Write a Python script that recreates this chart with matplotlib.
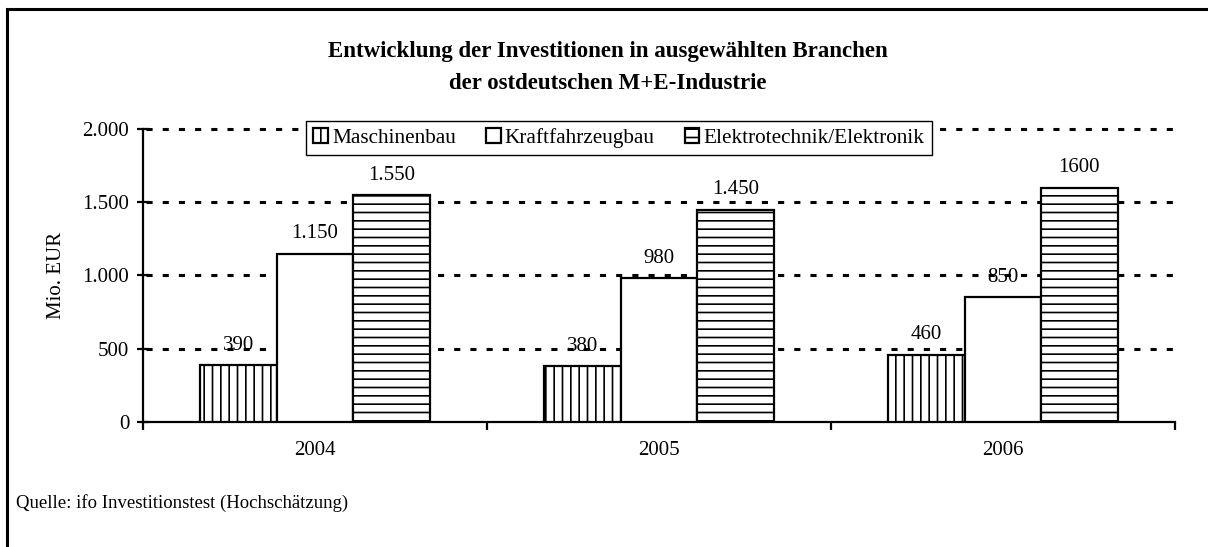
import numpy as np
import matplotlib
matplotlib.use("Agg")
import matplotlib.pyplot as plt
from matplotlib.patches import Rectangle
from matplotlib.ticker import FuncFormatter

years = ["2004", "2005", "2006"]
series = ["Maschinenbau", "Kraftfahrzeugbau", "Elektrotechnik/Elektronik"]
maschinenbau = [390, 380, 460]
kraftfahrzeugbau = [1150, 980, 850]
elektrotechnik = [1550, 1450, 1600]
labels = [["390", "380", "460"], ["1.150", "980", "850"], ["1.550", "1.450", "1600"]]
hatches = ["||", "", "--"]

plt.rcParams["font.family"] = ["Liberation Serif", "DejaVu Serif"]
plt.rcParams["hatch.linewidth"] = 1.2

fig = plt.figure(figsize=(12.08, 5.47), dpi=100)
ax = fig.add_axes([0.1184, 0.2285, 0.8543, 0.5357])

pos = np.arange(len(years))
w = 0.222
values = [maschinenbau, kraftfahrzeugbau, elektrotechnik]
for i, vals in enumerate(values):
    bars = ax.bar(pos + (i - 1) * w, vals, w, color="white", edgecolor="black",
                  linewidth=1.6, hatch=hatches[i], label=series[i], zorder=3)
    for b, t in zip(bars, labels[i]):
        ax.annotate(t, (b.get_x() + b.get_width() / 2, b.get_height()),
                    xytext=(0, 11), textcoords="offset points",
                    ha="center", va="baseline", fontsize=15, zorder=4)

ax.set_xlim(-0.5, 2.5)
ax.set_ylim(0, 2000)
ax.set_yticks([0, 500, 1000, 1500, 2000])
ax.yaxis.set_major_formatter(FuncFormatter(lambda v, p: f"{int(v):,}".replace(",", ".")))
# dotted grid lines, drawn behind the white bars
for y in [500, 1000, 1500, 2000]:
    ax.plot([-0.49, 2.5], [y, y], color="black", lw=2.2,
            linestyle=(0, (2, 3.3)), zorder=1, clip_on=False)

ax.set_xticks([-0.5, 0.5, 1.5, 2.5])
ax.set_xticklabels([])
ax.set_xticks(pos, minor=True)
ax.set_xticklabels(years, minor=True, fontsize=15)
ax.tick_params(axis="x", which="major", direction="out", length=6, width=1.6)
ax.tick_params(axis="x", which="minor", length=0, pad=14)
ax.tick_params(axis="y", direction="inout", length=8, width=1.6, labelsize=15, pad=6)

for s in ["top", "right"]:
    ax.spines[s].set_visible(False)
for s in ["left", "bottom"]:
    ax.spines[s].set_linewidth(1.6)

ax.set_ylabel("Mio. EUR", fontsize=15, labelpad=12)

leg = ax.legend(loc="center", bbox_to_anchor=(0.461, 0.969), ncol=3, fontsize=15.3,
                frameon=True, fancybox=False, edgecolor="black", framealpha=1,
                handlelength=0.7, handleheight=0.7, handletextpad=0.2,
                columnspacing=1.4, borderpad=0.35)
leg.get_frame().set_linewidth(1.0)
leg.set_zorder(5)

fig.text(0.503, 1 - 57 / 547, "Entwicklung der Investitionen in ausgewählten Branchen",
         ha="center", va="baseline", fontsize=16.5, fontweight="bold")
fig.text(0.503, 1 - 89 / 547, "der ostdeutschen M+E-Industrie",
         ha="center", va="baseline", fontsize=16.5, fontweight="bold")
fig.text(0.013, 1 - 503 / 547, "Quelle: ifo Investitionstest (Hochschätzung)", fontsize=13.5,
         ha="left", va="center")

fig.patches.append(Rectangle((7 / 1208, -0.1), 1.2, 1 - 9 / 547 + 0.1,
                             transform=fig.transFigure, fill=False,
                             edgecolor="black", linewidth=2.2))

fig.savefig("out.png", dpi=100)
